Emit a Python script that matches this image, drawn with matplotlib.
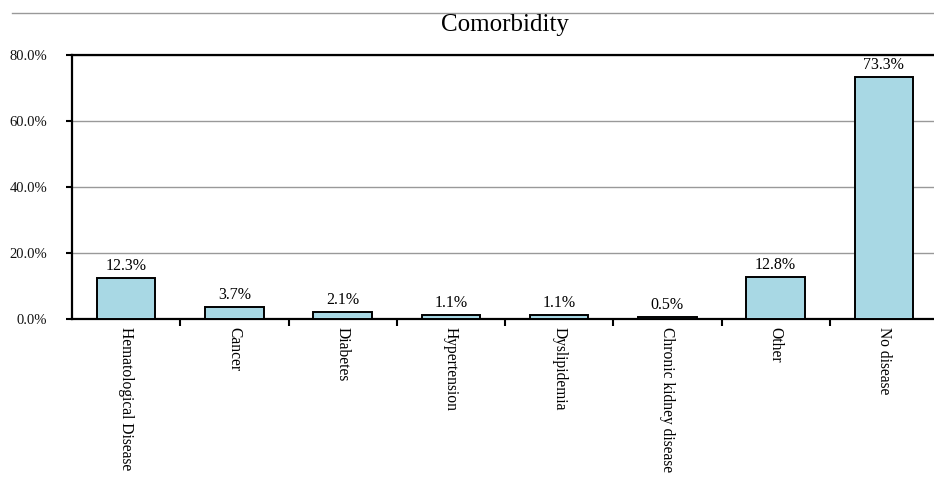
import matplotlib
matplotlib.use("Agg")
import matplotlib.pyplot as plt
import numpy as np
from matplotlib.lines import Line2D
from matplotlib.ticker import FixedLocator, FuncFormatter

categories = ["Hematological Disease", "Cancer", "Diabetes", "Hypertension",
              "Dyslipidemia", "Chronic kidney disease", "Other", "No disease"]
percentages = [12.3, 3.7, 2.1, 1.1, 1.1, 0.5, 12.8, 73.3]
y_ticks = [0, 20, 40, 60, 80]

plt.rcParams["font.family"] = ["Liberation Serif", "DejaVu Serif"]

fig = plt.figure(figsize=(9.34, 4.78), dpi=100)
ax = fig.add_axes([72 / 934, 1 - 319 / 478, 866 / 934, (319 - 55) / 478])

x = np.arange(len(categories))
ax.bar(x, percentages, width=0.54, color="#a8d8e4", edgecolor="black",
       linewidth=1.4, zorder=3)

for xi, v in zip(x, percentages):
    ax.text(xi, v + 1.2, f"{v:.1f}%", ha="center", va="bottom", fontsize=11.5)

ax.set_xlim(-0.5, len(categories) - 0.5)
ax.set_ylim(0, 80)
ax.set_yticks(y_ticks)
ax.yaxis.set_major_formatter(FuncFormatter(lambda v, _: f"{v:.1f}%"))
ax.yaxis.grid(True, color="#999999", linewidth=1.0, zorder=0)
ax.tick_params(axis="y", labelsize=10.5, length=4, width=1.5, pad=14,
               labelcolor="#111111")

ax.set_xticks(x)
ax.set_xticklabels(categories, rotation=270, fontsize=11.2, va="top", ha="center")
ax.tick_params(axis="x", which="major", length=0, pad=6)
ax.xaxis.set_minor_locator(FixedLocator(np.arange(0.5, len(categories) - 0.5, 1.0)))
ax.tick_params(axis="x", which="minor", length=5, width=1.5, direction="out")

for side in ("left", "top", "bottom"):
    ax.spines[side].set_linewidth(1.6)
    ax.spines[side].set_color("black")
ax.spines["right"].set_visible(False)

fig.text(505 / 934, 1 - 25 / 478, "Comorbidity", ha="center", va="center", fontsize=18)
fig.add_artist(Line2D([12 / 934, 1.0], [1 - 13 / 478, 1 - 13 / 478],
                      transform=fig.transFigure, color="#999999", linewidth=1.0))

fig.savefig("out.png", dpi=100)
